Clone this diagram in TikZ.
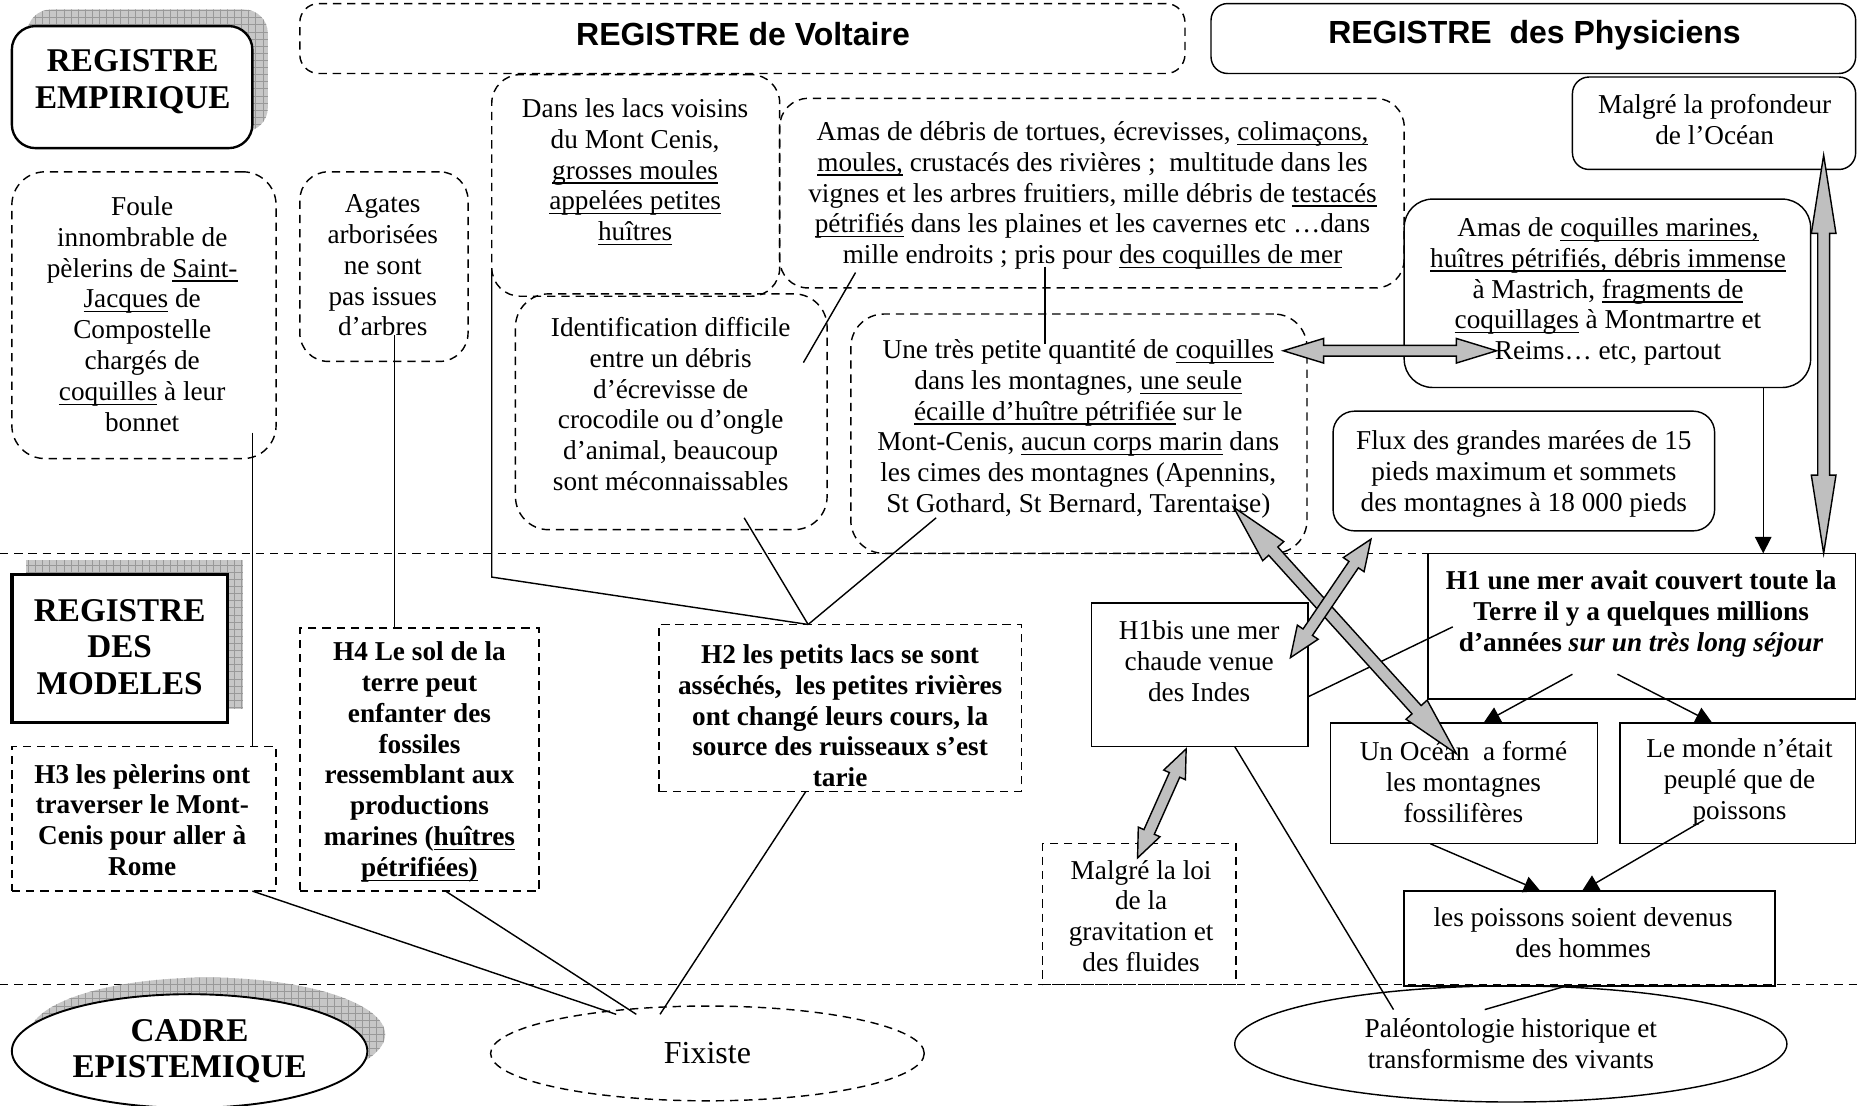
\documentclass[tikz,border=0pt]{standalone}
\usepackage{fontspec}
\setmainfont{Liberation Serif}
\setsansfont{Liberation Sans}
\usetikzlibrary{calc,arrows.meta,patterns,shapes.geometric}
\newsavebox\unbox
\newcommand\un[1]{\sbox\unbox{#1}\rlap{\rule[-1.9pt]{\wd\unbox}{0.55pt}}\usebox\unbox}
\newcommand\boxat[6]{\node[bx,#6,minimum width={(#4-#2)*0.5pt},minimum height={(#5-#3)*0.5pt}] (#1) at ({(#2+#4)/2},{(#3+#5)/2}) {};}
\newcommand\dblarr[5]{%
  \coordinate (dA) at ($(#1)!#3!(#2)$);
  \coordinate (dB) at ($(#2)!#3!(#1)$);
  \draw[blk] (#1) -- ($(dA)!#4!90:(#2)$) -- ($(dA)!#5!90:(#2)$) -- ($(dB)!#5!-90:(#1)$) -- ($(dB)!#4!-90:(#1)$) -- (#2) -- ($(dB)!#4!90:(#1)$) -- ($(dB)!#5!90:(#1)$) -- ($(dA)!#5!-90:(#2)$) -- ($(dA)!#4!-90:(#2)$) -- cycle;}
\tikzset{
 bx/.style={draw,line width=0.6pt,inner sep=0pt,outer sep=0pt,rectangle},
 dsh/.style={dash pattern=on 3.5pt off 2.5pt},
 txt/.style={align=center,inner sep=0pt,font=\fontsize{11.5}{13}\selectfont},
 btxt/.style={align=center,inner sep=0pt,font=\fontsize{11.5}{13}\selectfont\bfseries},
 hd/.style={align=center,inner sep=0pt,font=\fontsize{14}{15.5}\selectfont\bfseries},
 shd/.style={align=center,inner sep=0pt,font=\fontsize{13.5}{15}\selectfont\sffamily\bfseries},
 con/.style={line width=0.6pt},
 arr/.style={line width=0.6pt,-{Triangle[length=7pt,width=7pt]}},
 blk/.style={draw,line width=0.6pt,fill=black!25,line join=miter},
 shade/.style={fill=black!22},
 shadep/.style={pattern=grid,pattern color=black!40},
}
\begin{document}
\begin{tikzpicture}[x=0.5pt,y=-0.5pt]
\useasboundingbox (0,0) rectangle (1568,933);
\fill[white] (0,0) rectangle (1568,933);
% separators
\draw[con,dsh] (0,467) -- (1205,467);
\draw[con,dsh] (0,831) -- (1568,831);
% shadows
\fill[shade,rounded corners=10pt] (23,8) rectangle (226,111);
\fill[shadep,rounded corners=10pt] (23,8) rectangle (226,111);
\fill[shade] (22,473) rectangle (205,598);
\fill[shadep] (22,473) rectangle (205,598);
\fill[shade] (175,873) ellipse [x radius=75pt, y radius=24pt];
\fill[shadep] (175,873) ellipse [x radius=75pt, y radius=24pt];
% boxes
\boxat{emp}{10}{22}{213}{125}{rounded corners=10pt,fill=white,line width=1pt}
\boxat{volt}{253}{3}{1000}{62}{dsh,rounded corners=8pt}
\boxat{phys}{1022}{3}{1566}{62}{rounded corners=7pt}
\boxat{prof}{1327}{65}{1566}{143}{rounded corners=7pt}
\boxat{foule}{10}{145}{233}{387}{dsh,rounded corners=14pt}
\boxat{agat}{253}{145}{395}{305}{dsh,rounded corners=12pt}
\boxat{lacs}{415}{63}{658}{250}{dsh,rounded corners=12pt}
\boxat{amasd}{658}{83}{1185}{243}{dsh,rounded corners=12pt}
\boxat{ident}{435}{248}{698}{447}{dsh,rounded corners=14pt}
\boxat{petite}{718}{265}{1103}{467}{dsh,rounded corners=14pt}
\boxat{amasc}{1185}{168}{1528}{327}{rounded corners=12pt}
\boxat{flux}{1125}{347}{1447}{448}{rounded corners=9pt}
\boxat{mod}{10}{485}{192}{610}{fill=white,line width=1.4pt}
\boxat{h3}{10}{630}{233}{752}{dsh}
\boxat{h4}{253}{530}{455}{752}{dsh}
\boxat{h2}{556}{527}{862}{668}{dsh}
\boxat{hbis}{921}{509}{1104}{630}{}
\boxat{h1}{1205}{467}{1566}{590}{}
\boxat{ocean}{1123}{610}{1348}{712}{}
\boxat{monde}{1367}{610}{1566}{712}{}
\boxat{poiss}{1185}{752}{1498}{832}{}
\boxat{loi}{880}{712}{1043}{831}{dsh}
\node[ellipse,draw,fill=white,line width=0.8pt,minimum width=150pt,minimum height=48pt,inner sep=0pt,hd] (cadre) at (160,887) {CADRE\\EPISTEMIQUE};
\node[ellipse,draw,dsh,line width=0.6pt,minimum width=183pt,minimum height=40pt,inner sep=0pt,font=\fontsize{13.5}{15}\selectfont] (fix) at (597,889) {Fixiste};
\node[ellipse,draw,line width=0.6pt,minimum width=233pt,minimum height=49pt,inner sep=0pt,txt] (paleo) at (1275,881) {Paléontologie historique et\\transformisme des vivants};
% texts
\node[hd] (emp-t) at (112,69) {REGISTRE\\EMPIRIQUE};
\node[shd] (volt-t) at (627,29) {REGISTRE de Voltaire};
\node[shd] (phys-t) at (1295,30) {REGISTRE\ \ des Physiciens};
\node[txt] (prof-t) at (1447,101) {Malgré la profondeur\\de l’Océan};
\node[txt] (foule-t) at (120,265) {Foule\\innombrable de\\pèlerins de \un{Saint-}\\\un{Jacques} de\\Compostelle\\chargés de\\\un{coquilles} à leur\\bonnet};
\node[txt] (agat-t) at (323,224) {Agates\\arborisées\\ne sont\\pas issues\\d’arbres};
\node[txt] (lacs-t) at (536,145) {Dans les lacs voisins\\du Mont Cenis,\\\un{grosses moules}\\\un{appelées petites}\\\un{huîtres}};
\node[txt] (amasd-t) at (922,165) {Amas de débris de tortues, écrevisses, \un{colimaçons,}\\\un{moules,} crustacés des rivières ;\ \ multitude dans les\\vignes et les arbres fruitiers, mille débris de \un{testacés}\\\un{pétrifiés} dans les plaines et les cavernes etc …dans\\mille endroits ; pris pour \un{des coquilles de mer}};
\node[txt] (ident-t) at (566,341) {Identification difficile\\entre un débris\\d’écrevisse de\\crocodile ou d’ongle\\d’animal, beaucoup\\sont méconnaissables};
\node[txt] (petite-t) at (910,362) {Une très petite quantité de \un{coquilles}\\dans les montagnes, \un{une seule}\\\un{écaille d’huître pétrifiée} sur le\\Mont-Cenis, \un{aucun corps marin} dans\\les cimes des montagnes (Apennins,\\St Gothard, St Bernard, Tarentaise)};
\node[txt] (amasc-t) at (1357,246) {Amas de \un{coquilles marines,}\\\un{huîtres pétrifiés, débris immense}\\à Mastrich, \un{fragments de}\\\un{coquillages} à Montmartre et\\Reims… etc, partout};
\node[txt] (flux-t) at (1286,400) {Flux des grandes marées de 15\\pieds maximum et sommets\\des montagnes à 18 000 pieds};
\node[hd] (mod-t) at (101,546) {REGISTRE\\DES\\MODELES};
\node[btxt] (h3-t) at (120,692) {H3 les pèlerins ont\\traverser le Mont-\\Cenis pour aller à\\Rome};
\node[btxt] (h4-t) at (354,643) {H4 Le sol de la\\terre peut\\enfanter des\\fossiles\\ressemblant aux\\productions\\marines (\un{huîtres}\\\un{pétrifiées)}};
\node[btxt] (h2-t) at (709,604) {H2 les petits lacs se sont\\asséchés,\ \ les petites rivières\\ont changé leurs cours, la\\source des ruisseaux s’est\\tarie};
\node[txt] (hbis-t) at (1012,558) {H1bis une mer\\chaude venue\\des Indes};
\node[btxt] (h1-t) at (1385,518) {H1 une mer avait couvert toute la\\Terre il y a quelques millions\\d’années \textit{sur un très long séjour}};
\node[txt] (ocean-t) at (1235,660) {Un Océan\ \ a formé\\les montagnes\\fossilifères};
\node[txt] (monde-t) at (1468,660) {Le monde n’était\\peuplé que de\\poissons};
\node[txt] (poiss-t) at (1336,787) {les poissons soient devenus\\des hommes};
\node[txt] (loi-t) at (963,773) {Malgré la loi\\de la\\gravitation et\\des fluides};
% connector coordinates
\coordinate (fA) at (213,365);
\coordinate (agA) at (333,283);
\coordinate (lA) at (415,228);
\coordinate (lB) at (415,487);
\coordinate (h2j) at (682,527);
\coordinate (idA) at (628,437);
\coordinate (ptA) at (790,437);
\coordinate (adA) at (722,230);
\coordinate (idB) at (678,306);
\coordinate (adC) at (882,225);
\coordinate (ptB) at (882,290);
\coordinate (acA) at (1488,327);
\coordinate (h1A) at (1226,529);
\coordinate (hbA) at (1104,588);
\coordinate (h1B) at (1327,569);
\coordinate (ocA) at (1252,610);
\coordinate (h1C) at (1365,569);
\coordinate (moA) at (1445,610);
\coordinate (ocB) at (1207,712);
\coordinate (poA) at (1300,752);
\coordinate (moB) at (1438,692);
\coordinate (poB) at (1335,752);
\coordinate (hbB) at (1042,630);
\coordinate (paA) at (1176,852);
\coordinate (poC) at (1322,832);
\coordinate (paB) at (1253,852);
\coordinate (h3A) at (213,752);
\coordinate (fxA) at (520,856);
\coordinate (h4A) at (376,752);
\coordinate (fxB) at (537,856);
\coordinate (h2A) at (680,668);
\coordinate (fxC) at (557,856);
% connectors
\draw[con] (fA) -- (fA |- h3.north);
\draw[con] (agA) -- (agA |- h4.north);
\draw[con] (lA) -- (lB) -- (h2j);
\draw[con] (idA) -- (h2j);
\draw[con] (ptA) -- (h2j);
\draw[con] (adA) -- (idB);
\draw[con] (adC) -- (ptB);
\draw[arr] (acA) -- (acA |- h1.north);
\draw[con] (h1A) -- (hbA);
\draw[arr] (h1B) -- (ocA);
\draw[arr] (h1C) -- (moA);
\draw[arr] (ocB) -- (poA);
\draw[arr] (moB) -- (poB);
\draw[con] (hbB) -- (paA);
\draw[con] (poC) -- (paB);
\draw[con] (h3A) -- (fxA);
\draw[con] (h4A) -- (fxB);
\draw[con] (h2A) -- (fxC);
% block arrows
\coordinate (bi1) at (1539,131); \coordinate (bi2) at (1539,467);
\coordinate (bj1) at (1083,296); \coordinate (bj2) at (1263,296);
\coordinate (bk1) at (1041,428); \coordinate (bk2) at (1229,636);
\coordinate (bl1) at (1157,455); \coordinate (bl2) at (1089,555);
\coordinate (bm1) at (1001,632); \coordinate (bm2) at (960,724);
\dblarr{bi1}{bi2}{33pt}{5.2pt}{2.5pt}
\dblarr{bj1}{bj2}{17pt}{5.2pt}{2.3pt}
\dblarr{bk1}{bk2}{25pt}{6pt}{2.6pt}
\dblarr{bl1}{bl2}{13pt}{5.3pt}{2.4pt}
\dblarr{bm1}{bm2}{12pt}{5pt}{2.4pt}
\end{tikzpicture}
\end{document}
